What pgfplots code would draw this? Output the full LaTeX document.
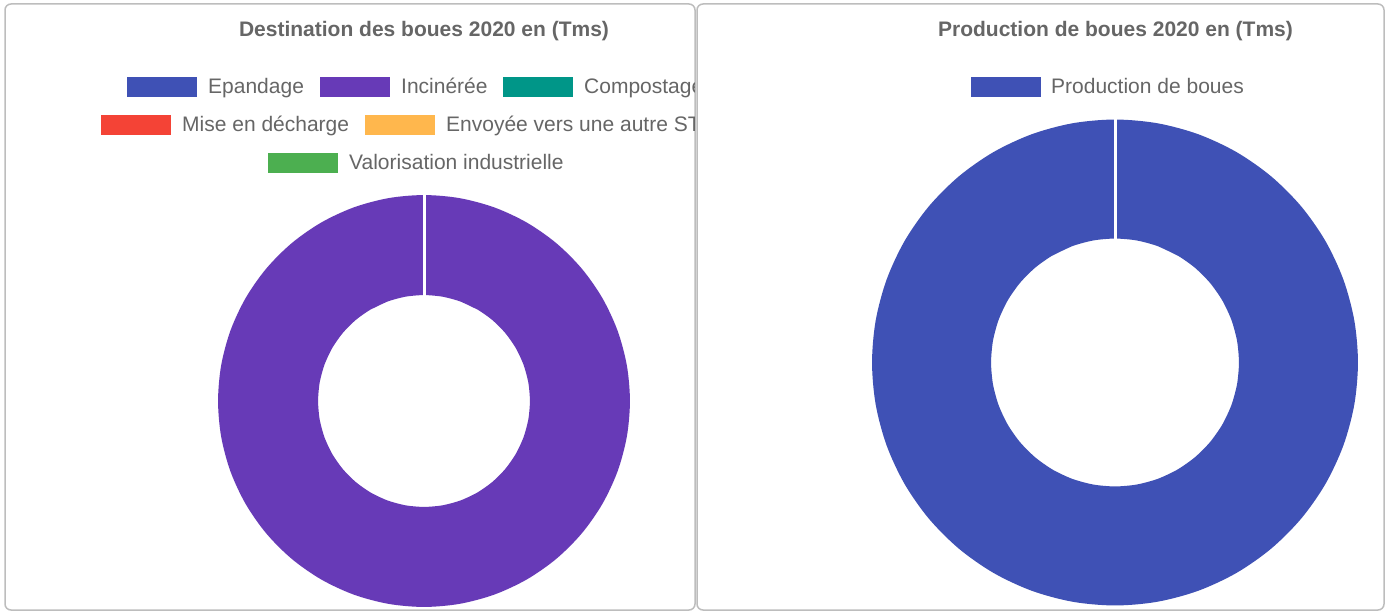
\documentclass[border=0pt]{standalone}
\usepackage{pgfplots}
\pgfplotsset{compat=1.18}
\usepackage{pgfplotstable}
\usepgfplotslibrary{polar}
\usepackage{fontspec}
\setmainfont{Liberation Sans}
\definecolor{cblue}{HTML}{3F51B5}
\definecolor{cpurple}{HTML}{673AB7}
\definecolor{cteal}{HTML}{009688}
\definecolor{cred}{HTML}{F44336}
\definecolor{corange}{HTML}{FFB74D}
\definecolor{cgreen}{HTML}{4CAF50}
\definecolor{ctext}{HTML}{666666}
\definecolor{cborder}{HTML}{BDBDBD}
% ring path: slice covering 100 % of the total, clockwise from the top
% (the ends overlap past 90 deg so that the seam is clean)
% rl / rr : mid-radius of the ring (fraction of outer radius) left / right chart
\pgfplotstableread{
angle rl rr
120 0.757 0.755
110 0.757 0.755
100 0.757 0.755
90 0.757 0.755
80 0.757 0.755
70 0.757 0.755
60 0.757 0.755
50 0.757 0.755
40 0.757 0.755
30 0.757 0.755
20 0.757 0.755
10 0.757 0.755
0 0.757 0.755
-10 0.757 0.755
-20 0.757 0.755
-30 0.757 0.755
-40 0.757 0.755
-50 0.757 0.755
-60 0.757 0.755
-70 0.757 0.755
-80 0.757 0.755
-90 0.757 0.755
-100 0.757 0.755
-110 0.757 0.755
-120 0.757 0.755
-130 0.757 0.755
-140 0.757 0.755
-150 0.757 0.755
-160 0.757 0.755
-170 0.757 0.755
-180 0.757 0.755
-190 0.757 0.755
-200 0.757 0.755
-210 0.757 0.755
-220 0.757 0.755
-230 0.757 0.755
-240 0.757 0.755
-250 0.757 0.755
-260 0.757 0.755
-270 0.757 0.755
-280 0.757 0.755
-290 0.757 0.755
-300 0.757 0.755
}\ring
\begin{document}
\begin{tikzpicture}[x=1pt,y=1pt]
\useasboundingbox (0,0) rectangle (1390,-612);
\fill[white] (0,0) rectangle (1390,-612);
% panels
\draw[cborder, line width=1.5pt, rounded corners=6pt] (5,-4) rectangle (695,-610);
\draw[cborder, line width=1.5pt, rounded corners=6pt] (697,-4) rectangle (1384,-610);
% titles
\node[font=\fontsize{21}{25}\selectfont\bfseries, text=ctext] at (424,-31) {Destination des boues 2020 en (Tms)};
\node[font=\fontsize{21}{25}\selectfont\bfseries, text=ctext] at (1115.5,-31) {Production de boues 2020 en (Tms)};
% left legend (clipped by panel)
\begin{scope}
\clip (5,0) rectangle (694,-612);
\tikzset{lbox/.style={minimum width=70pt, minimum height=20pt, inner sep=0pt, anchor=west},
         ltxt/.style={font=\fontsize{21}{25}\selectfont, text=ctext, anchor=base west, inner sep=0pt}}
\node[lbox, fill=cblue] at (127,-87) {};
\node[ltxt] at (208,-94) {Epandage};
\node[lbox, fill=cpurple] at (320,-87) {};
\node[ltxt] at (401,-94) {Incinérée};
\node[lbox, fill=cteal] at (503,-87) {};
\node[ltxt] at (584,-94) {Compostage};
\node[lbox, fill=cred] at (101,-125) {};
\node[ltxt] at (182,-132) {Mise en décharge};
\node[lbox, fill=corange] at (365,-125) {};
\node[ltxt] at (446,-132) {Envoyée vers une autre STEP};
\node[lbox, fill=cgreen] at (268,-163) {};
\node[ltxt] at (349,-170) {Valorisation industrielle};
\end{scope}
% right legend
\node[minimum width=70pt, minimum height=20pt, inner sep=0pt, anchor=west, fill=cblue] at (971,-87) {};
\node[font=\fontsize{21}{25}\selectfont, text=ctext, anchor=base west, inner sep=0pt] at (1051,-94) {Production de boues};
% left donut
\begin{polaraxis}[at={(424pt,-401pt)}, anchor=center, hide axis, scale only axis,
  width=412pt, height=412pt, xmin=0, xmax=360, ymin=0, ymax=1, clip=false]
\addplot[no markers, smooth, line width=100pt, color=cpurple, line cap=butt] table[x=angle, y=rl] {\ring};
\addplot[no markers, white, line width=3pt] coordinates {(90,0.45) (90,1.03)};
\end{polaraxis}
% right donut
\begin{polaraxis}[at={(1115pt,-362.5pt)}, anchor=center, hide axis, scale only axis,
  width=486pt, height=486pt, xmin=0, xmax=360, ymin=0, ymax=1, clip=false]
\addplot[no markers, smooth, line width=119pt, color=cblue, line cap=butt] table[x=angle, y=rr] {\ring};
\addplot[no markers, white, line width=3pt] coordinates {(90,0.45) (90,1.03)};
\end{polaraxis}
\end{tikzpicture}
\end{document}
